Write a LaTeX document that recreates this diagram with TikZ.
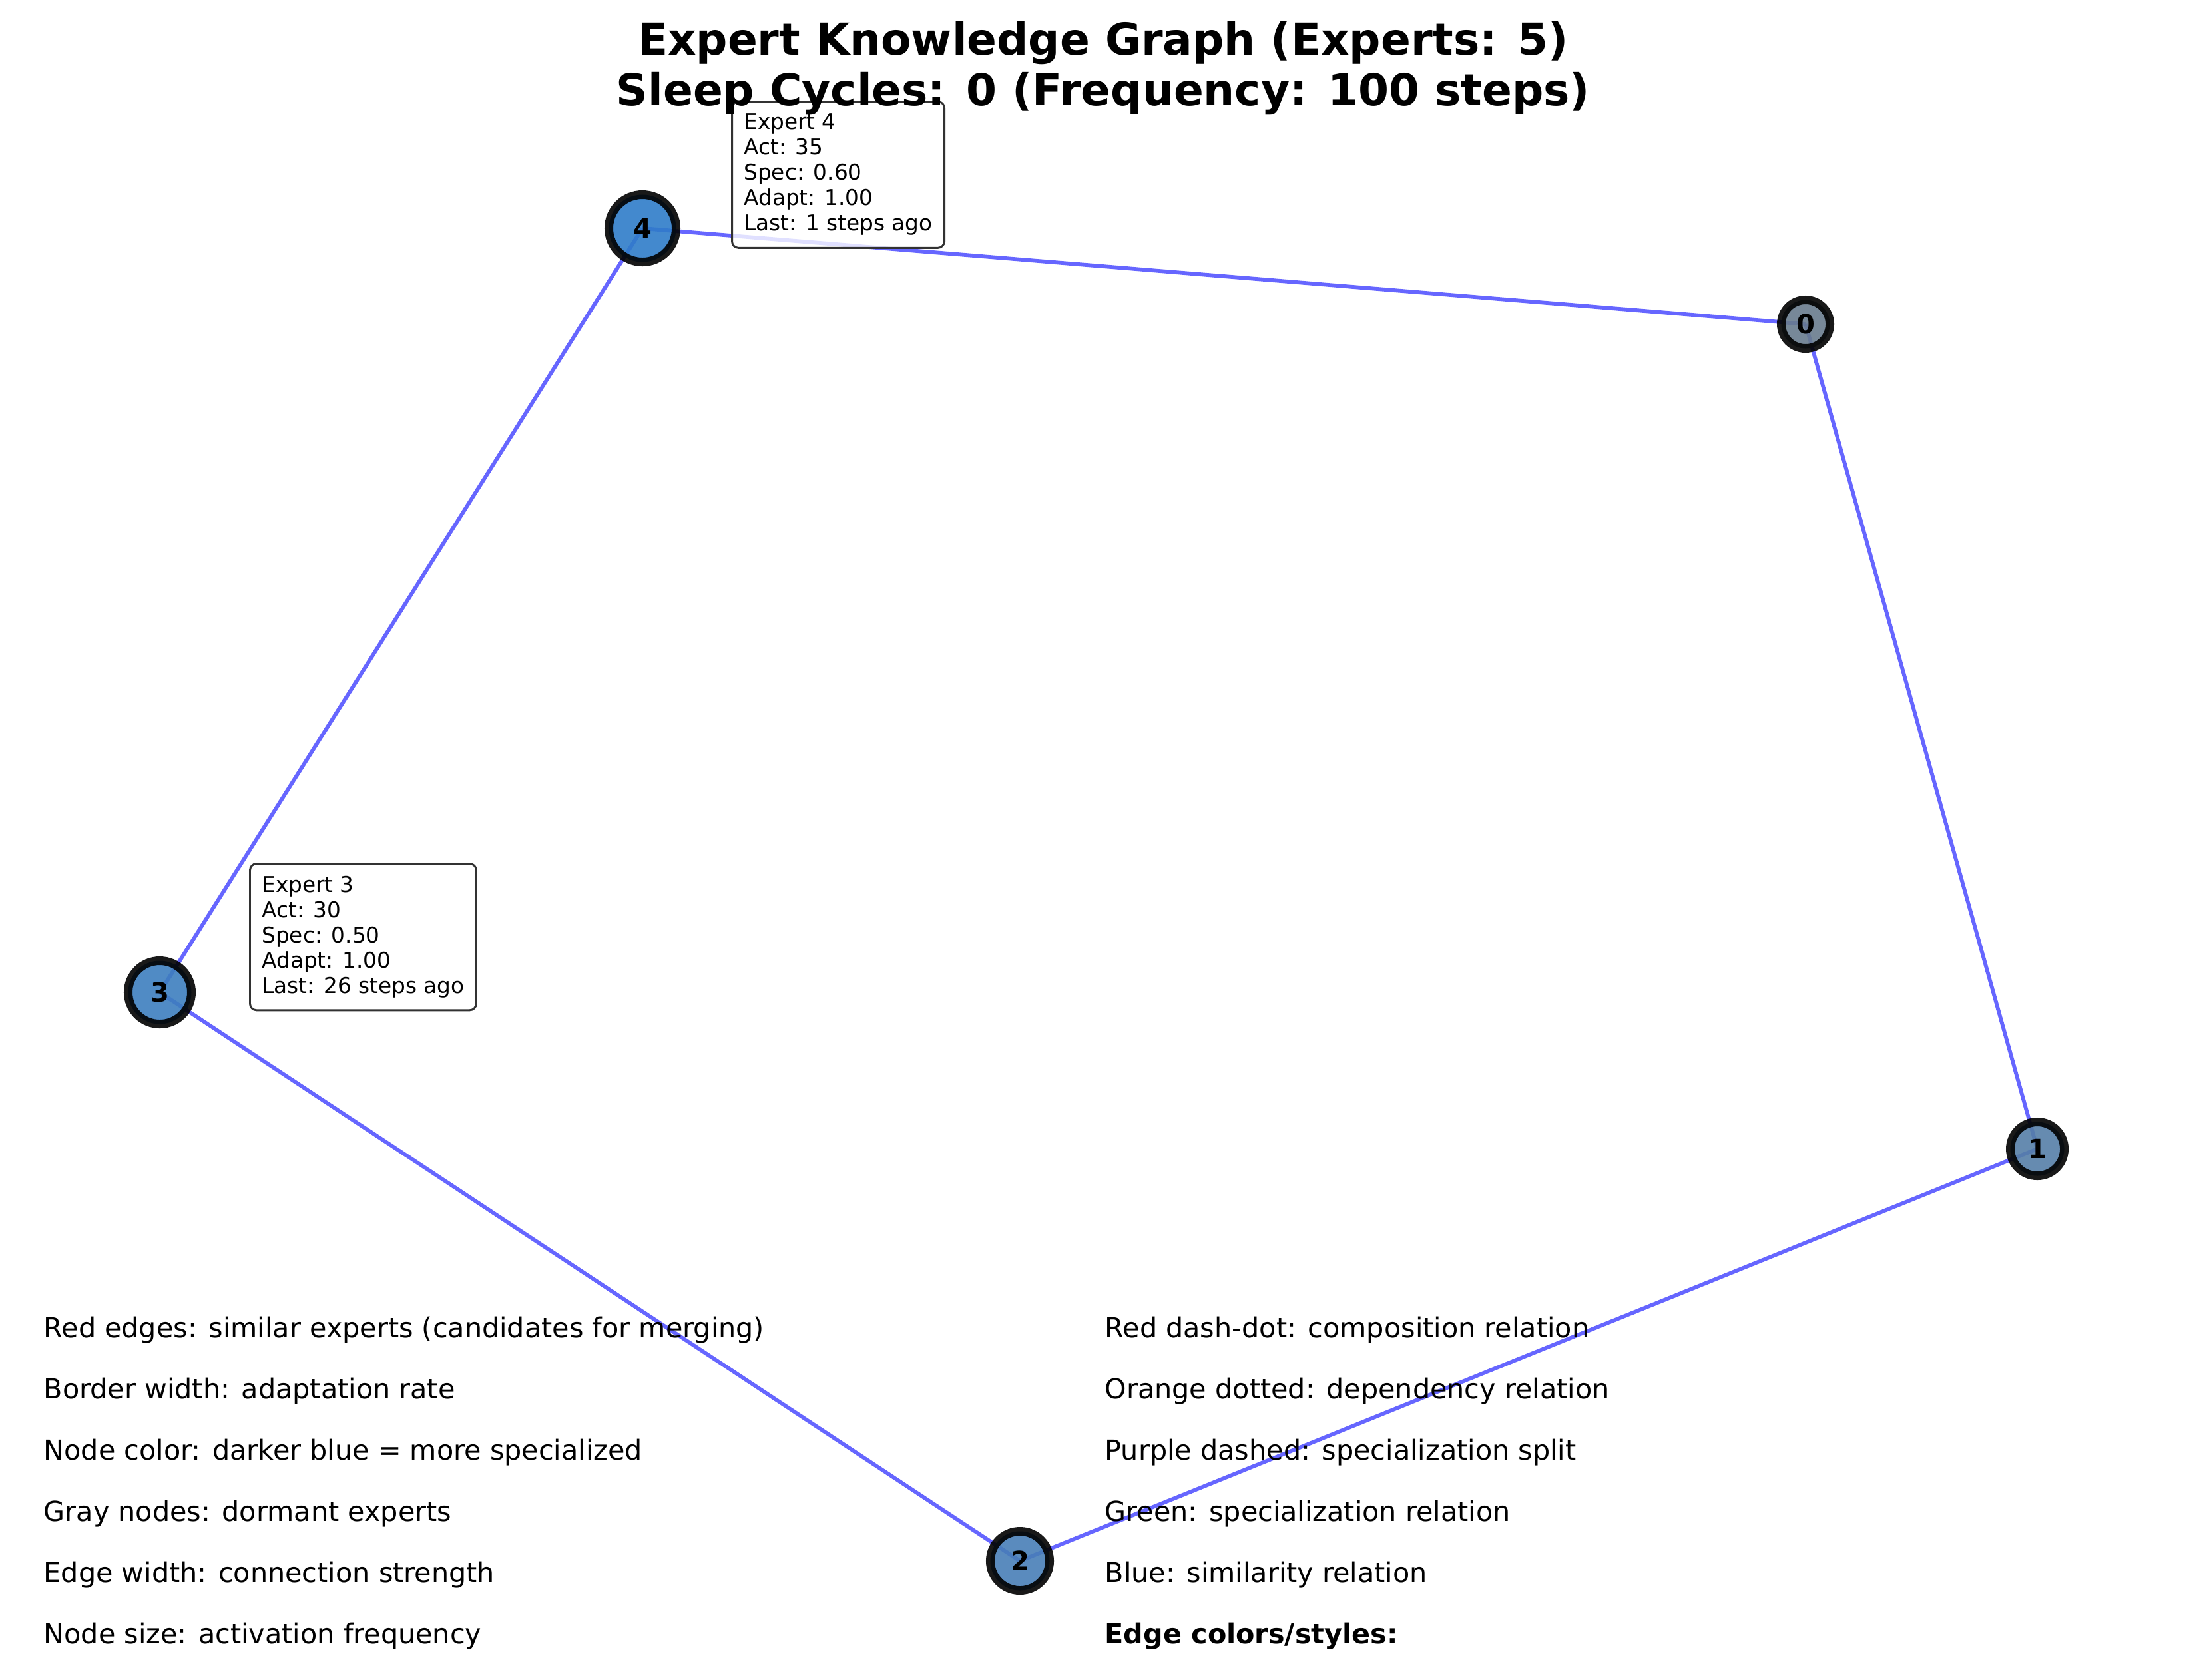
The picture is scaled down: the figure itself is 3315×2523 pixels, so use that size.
\documentclass[tikz,border=0pt]{standalone}
\usepackage{fontspec}
\setmainfont{DejaVu Sans}
\definecolor{nborder}{RGB}{0,0,0}
\definecolor{c0}{RGB}{104,123,141}
\definecolor{c1}{RGB}{85,126,167}
\definecolor{c2}{RGB}{72,126,183}
\definecolor{c3}{RGB}{61,126,191}
\definecolor{c4}{RGB}{47,124,201}
\definecolor{edgeblue}{RGB}{0,0,255}
\definecolor{boxborder}{RGB}{50,50,50}
\begin{document}
\begin{tikzpicture}[x=0.01cm,y=-0.01cm,
  expert/.style={circle, draw=nborder, line width=3.7pt, inner sep=0pt, opacity=0.9},
  nlabel/.style={inner sep=0pt, font=\bfseries\fontsize{11.4pt}{13pt}\selectfont},
  simedge/.style={draw=edgeblue, draw opacity=0.6, line width=1.65pt},
  infobox/.style={draw=boxborder, line width=0.85pt, rounded corners=2.8pt,
    fill=white, fill opacity=0.8, text opacity=1, align=left,
    inner xsep=5.1pt, inner ysep=5.3pt, anchor=north west,
    font=\fontsize{9.3pt}{10.8pt}\selectfont},
  legend/.style={anchor=base west, inner sep=0pt, font=\fontsize{11.75pt}{13pt}\selectfont},
  titletext/.style={anchor=base, inner sep=0pt,
    font=\bfseries\fontsize{18.8pt}{21.6pt}\selectfont}]
\useasboundingbox (0,0) rectangle (3315,2523);

% node positions
\coordinate (p0) at (2712,487);
\coordinate (p1) at (3060,1726);
\coordinate (p2) at (1532,2345);
\coordinate (p3) at (240,1491);
\coordinate (p4) at (965,343);

% edges (below nodes)
\draw[simedge] (p4) -- (p0);
\draw[simedge] (p0) -- (p1);
\draw[simedge] (p1) -- (p2);
\draw[simedge] (p2) -- (p3);
\draw[simedge] (p3) -- (p4);

% nodes
\node[expert, fill=c0, minimum size=0.73cm] (n0) at (p0) {};
\node[expert, fill=c1, minimum size=0.81cm] (n1) at (p1) {};
\node[expert, fill=c2, minimum size=0.89cm] (n2) at (p2) {};
\node[expert, fill=c3, minimum size=0.95cm] (n3) at (p3) {};
\node[expert, fill=c4, minimum size=1.01cm] (n4) at (p4) {};

% labels
\node[nlabel] (t0) at (n0.center) {0};
\node[nlabel] (t1) at (n1.center) {1};
\node[nlabel] (t2) at (n2.center) {2};
\node[nlabel] (t3) at (n3.center) {3};
\node[nlabel] (t4) at (n4.center) {4};

% info boxes
\node[infobox] (b4) at (1098,151) {Expert 4\\Act: 35\\Spec: 0.60\\Adapt: 1.00\\Last: 1 steps ago};
\node[infobox] (b3) at (374,1296) {Expert 3\\Act: 30\\Spec: 0.50\\Adapt: 1.00\\Last: 26 steps ago};

% title (on top of everything)
\node[titletext] (title1) at (1657,82) {Expert Knowledge Graph (Experts: 5)};
\node[titletext] (title2) at (1657,158) {Sleep Cycles: 0 (Frequency: 100 steps)};

% left legend
\node[legend] (l1) at (65,2009) {Red edges: similar experts (candidates for merging)};
\node[legend] (l2) at (65,2101) {Border width: adaptation rate};
\node[legend] (l3) at (65,2193) {Node color: darker blue = more specialized};
\node[legend] (l4) at (65,2285) {Gray nodes: dormant experts};
\node[legend] (l5) at (65,2377) {Edge width: connection strength};
\node[legend] (l6) at (65,2469) {Node size: activation frequency};

% right legend
\node[legend] (r1) at (1659,2009) {Red dash-dot: composition relation};
\node[legend] (r2) at (1659,2101) {Orange dotted: dependency relation};
\node[legend] (r3) at (1659,2193) {Purple dashed: specialization split};
\node[legend] (r4) at (1659,2285) {Green: specialization relation};
\node[legend] (r5) at (1659,2377) {Blue: similarity relation};
\node[legend, font=\bfseries\fontsize{11.75pt}{13pt}\selectfont] (r6) at (1659,2469) {Edge colors/styles:};
\end{tikzpicture}
\end{document}
